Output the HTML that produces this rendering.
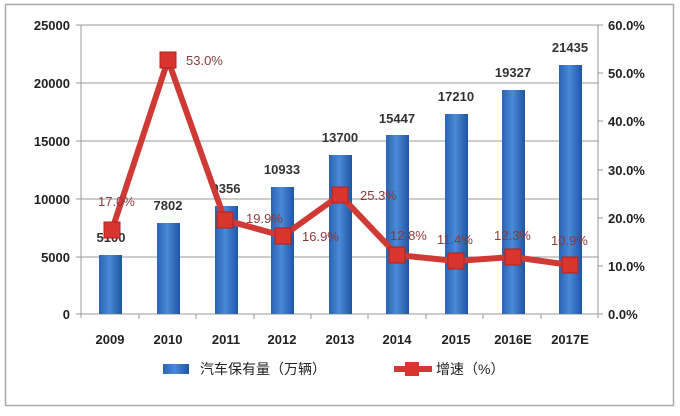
<!DOCTYPE html>
<html><head><meta charset="utf-8"><style>
body{margin:0;background:#fff;}
svg text{font-family:"Liberation Sans","Noto Sans CJK SC",sans-serif;}
</style></head><body>
<svg width="680" height="411" xmlns="http://www.w3.org/2000/svg">
<defs>
<linearGradient id="bg" x1="0" x2="1" y1="0" y2="0">
<stop offset="0" stop-color="#2a63b0"/><stop offset="0.45" stop-color="#4a8ad8"/><stop offset="1" stop-color="#1f55a0"/>
</linearGradient>
</defs>
<rect x="5.5" y="4.5" width="668" height="401" fill="#fff" stroke="#aaa" stroke-width="1.5"/>
<g stroke="#999" stroke-width="1">
<line x1="81" y1="25" x2="598" y2="25"/>
<line x1="81" y1="83" x2="598" y2="83"/>
<line x1="81" y1="141" x2="598" y2="141"/>
<line x1="81" y1="199" x2="598" y2="199"/>
<line x1="81" y1="257" x2="598" y2="257"/>
<line x1="81" y1="314" x2="598" y2="314"/>
<line x1="81" y1="25" x2="81" y2="318"/>
<line x1="598" y1="25" x2="598" y2="318"/>
<line x1="76" y1="25" x2="81" y2="25"/><line x1="76" y1="83" x2="81" y2="83"/><line x1="76" y1="141" x2="81" y2="141"/><line x1="76" y1="199" x2="81" y2="199"/><line x1="76" y1="257" x2="81" y2="257"/><line x1="76" y1="314" x2="81" y2="314"/>
<line x1="598" y1="25" x2="603" y2="25"/><line x1="598" y1="73" x2="603" y2="73"/><line x1="598" y1="121" x2="603" y2="121"/><line x1="598" y1="170" x2="603" y2="170"/><line x1="598" y1="218" x2="603" y2="218"/><line x1="598" y1="266" x2="603" y2="266"/><line x1="598" y1="314" x2="603" y2="314"/>
<line x1="139" y1="314" x2="139" y2="319"/><line x1="196" y1="314" x2="196" y2="319"/><line x1="254" y1="314" x2="254" y2="319"/><line x1="311" y1="314" x2="311" y2="319"/><line x1="368" y1="314" x2="368" y2="319"/><line x1="426" y1="314" x2="426" y2="319"/><line x1="483" y1="314" x2="483" y2="319"/><line x1="541" y1="314" x2="541" y2="319"/>
</g>
<g font-size="13" fill="#222" font-weight="bold" text-anchor="end">
<text x="70" y="30">25000</text><text x="70" y="88">20000</text><text x="70" y="146">15000</text><text x="70" y="204">10000</text><text x="70" y="262">5000</text><text x="70" y="319">0</text>
</g>
<g font-size="13" fill="#222" font-weight="bold" text-anchor="start">
<text x="608" y="30">60.0%</text><text x="608" y="78">50.0%</text><text x="608" y="126">40.0%</text><text x="608" y="175">30.0%</text><text x="608" y="223">20.0%</text><text x="608" y="271">10.0%</text><text x="608" y="319">0.0%</text>
</g>
<g fill="url(#bg)">
<rect x="99" y="255" width="23" height="59"/>
<rect x="157" y="223" width="23" height="91"/>
<rect x="215" y="206" width="23" height="108"/>
<rect x="271" y="187" width="23" height="127"/>
<rect x="329" y="155" width="23" height="159"/>
<rect x="386" y="135" width="23" height="179"/>
<rect x="445" y="114" width="23" height="200"/>
<rect x="502" y="90" width="23" height="224"/>
<rect x="559" y="65" width="23" height="249"/>
</g>
<g font-size="13" fill="#333" font-weight="bold" text-anchor="middle">
<text x="111" y="242">5100</text><text x="168" y="210">7802</text><text x="226" y="193">9356</text><text x="282" y="174">10933</text><text x="340" y="142">13700</text><text x="397" y="123">15447</text><text x="456" y="101">17210</text><text x="513" y="77">19327</text><text x="570" y="52">21435</text>
</g>
<polyline points="112,230 168,60 225,220 283,236 340,195 397,255 456,261 513,257 570,265" fill="none" stroke="#d03a35" stroke-width="6" stroke-linejoin="round"/>
<g fill="#d9352f" stroke="#b02020" stroke-width="1">
<rect x="104" y="222" width="16" height="16"/><rect x="160" y="52" width="16" height="16"/><rect x="217" y="212" width="16" height="16"/><rect x="275" y="228" width="16" height="16"/><rect x="332" y="187" width="16" height="16"/><rect x="389" y="247" width="16" height="16"/><rect x="448" y="253" width="16" height="16"/><rect x="505" y="249" width="16" height="16"/><rect x="562" y="257" width="16" height="16"/>
</g>
<g font-size="13" fill="#8b3a3a">
<text x="98" y="206">17.0%</text><text x="186" y="65">53.0%</text><text x="246" y="223">19.9%</text><text x="302" y="241">16.9%</text><text x="360" y="200">25.3%</text><text x="390" y="240">12.8%</text><text x="437" y="244">11.4%</text><text x="494" y="240">12.3%</text><text x="551" y="245">10.9%</text>
</g>
<g font-size="13" fill="#222" font-weight="bold" text-anchor="middle">
<text x="110" y="344">2009</text><text x="168" y="344">2010</text><text x="226" y="344">2011</text><text x="282" y="344">2012</text><text x="340" y="344">2013</text><text x="397" y="344">2014</text><text x="456" y="344">2015</text><text x="513" y="344">2016E</text><text x="570" y="344">2017E</text>
</g>
<rect x="163" y="364" width="26" height="10" fill="url(#bg)"/>
<text x="200" y="374" font-size="14" fill="#222">汽车保有量（万辆）</text>
<line x1="394" y1="369" x2="432" y2="369" stroke="#d03a35" stroke-width="6"/>
<rect x="405" y="362" width="14" height="14" fill="#d9352f"/>
<text x="436" y="374" font-size="14" fill="#222">增速（%）</text>
</svg>
</body></html>
